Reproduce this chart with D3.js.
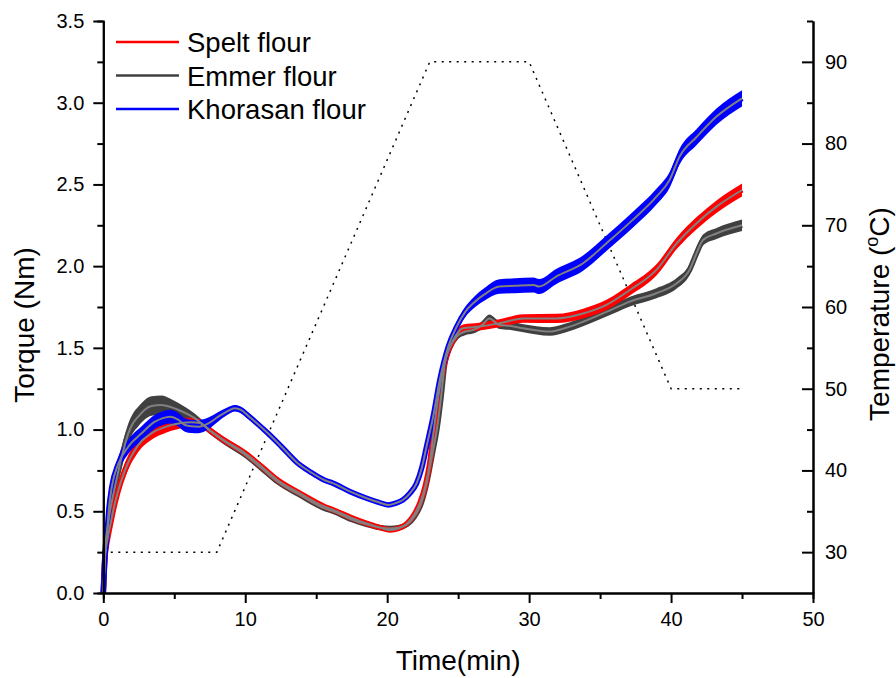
<!DOCTYPE html>
<html>
<head>
<meta charset="utf-8">
<script src="https://cdn.jsdelivr.net/npm/d3@7"></script>
<style>
  body { margin: 0; background: #fff; }
  text { font-family: "Liberation Sans", Arial, sans-serif; }
</style>
</head>
<body>
<svg id="chart" width="896" height="678"></svg>
<script>
// torque curves, [time (min), torque (Nm)]
const speltTorque = [[0,0],[0.12,0.22],[0.3,0.33],[0.5,0.42],[0.82,0.55],[1.2,0.67],[1.76,0.8],[2.2,0.87],[2.7,0.93],[3.2,0.965],[3.64,0.99],[4.2,1.01],[4.8,1.028],[5.5,1.04],[6.2,1.045],[6.8,1.04],[7.6,0.99],[8.5,0.935],[10,0.855],[11.2,0.77],[12.3,0.69],[13.85,0.61],[15.6,0.528],[16.2,0.508],[17.5,0.46],[18.55,0.426],[19.5,0.4],[20.2,0.386],[20.8,0.395],[21.4,0.426],[21.9,0.48],[22.3,0.549],[22.7,0.66],[23,0.794],[23.25,0.97],[23.5,1.14],[23.94,1.365],[24.3,1.48],[24.65,1.548],[25.35,1.62],[26.5,1.63],[27.9,1.65],[29.6,1.68],[31.9,1.68],[33.8,1.71],[35.45,1.763],[37.1,1.854],[38.97,1.977],[40.4,2.14],[41.8,2.263],[43.2,2.364],[45,2.466]];
const emmerTorque = [[0,0],[0.12,0.25],[0.35,0.43],[0.6,0.56],[0.82,0.65],[1.3,0.834],[1.76,0.977],[2.1,1.04],[2.46,1.079],[2.9,1.12],[3.4,1.144],[4.1,1.15],[4.7,1.14],[5.3,1.12],[6.46,1.069],[7.6,0.987],[8.5,0.93],[10,0.845],[11.2,0.76],[12.3,0.68],[13.85,0.6],[15.6,0.518],[16.2,0.5],[17.5,0.45],[18.55,0.42],[19.5,0.4],[20.2,0.395],[20.8,0.4],[21.4,0.42],[21.9,0.465],[22.4,0.55],[22.8,0.68],[23.2,0.86],[23.5,1],[23.8,1.2],[24.06,1.405],[24.4,1.5],[24.9,1.57],[25.5,1.6],[26.06,1.61],[26.7,1.64],[27.2,1.68],[27.9,1.64],[28.6,1.635],[29.6,1.62],[31.46,1.6],[32.5,1.62],[33.8,1.66],[35.45,1.72],[37.1,1.783],[38.97,1.834],[40.4,1.895],[41.3,1.977],[41.8,2.08],[42.25,2.16],[43.2,2.2],[45,2.25]];
const khorasanTorque = [[0,0],[0.1,0.2],[0.25,0.345],[0.4,0.52],[0.6,0.65],[1.06,0.79],[1.76,0.895],[2.7,0.977],[3.64,1.048],[4.2,1.07],[4.7,1.079],[5.3,1.059],[5.75,1.028],[6.2,1.02],[6.7,1.018],[7.4,1.038],[8.1,1.079],[8.7,1.11],[9.27,1.13],[9.7,1.12],[10.2,1.085],[10.7,1.048],[11.6,0.977],[12.56,0.895],[13.7,0.794],[14.6,0.74],[15.6,0.69],[16.2,0.671],[17.4,0.62],[18.55,0.58],[19.4,0.555],[20.07,0.539],[20.6,0.55],[21.1,0.569],[21.6,0.61],[22.07,0.671],[22.45,0.77],[22.77,0.895],[23.24,1.079],[23.7,1.3],[24.3,1.507],[24.9,1.63],[25.5,1.72],[26.06,1.773],[26.9,1.83],[27.9,1.875],[29,1.88],[30.3,1.885],[30.7,1.875],[31.9,1.936],[33.8,2.018],[35.45,2.14],[37.3,2.283],[38.97,2.425],[39.9,2.528],[40.6,2.67],[41.8,2.79],[43.2,2.915],[45,3.027]];

// half width of the noisy raw-data band, [time, Nm]
const speltSpread = [[0,0.01],[1,0.045],[5,0.035],[7,0.022],[20,0.012],[25,0.022],[45,0.04]];
const emmerSpread = [[0,0.01],[1,0.06],[4,0.06],[7,0.02],[20,0.012],[25,0.022],[45,0.035]];
const khorasanSpread = [[0,0.01],[1,0.045],[7,0.04],[9,0.02],[20,0.012],[25,0.028],[28,0.045],[45,0.05]];

// mixing temperature profile
const tempTimes = [0, 8, 23, 30, 40, 45];
const tempValues = [30, 30, 90, 90, 50, 50];

const seriesNames = ['Spelt flour', 'Emmer flour', 'Khorasan flour'];
const seriesColors = ['#ff0000', '#404040', '#0000ff'];

const xTicks = [0, 10, 20, 30, 40, 50];
const torqueTicks = [0, 0.5, 1, 1.5, 2, 2.5, 3, 3.5];
const tempTicks = [30, 40, 50, 60, 70, 80, 90];

const svg = d3.select('#chart');
const plot = { left: 103.3, right: 813, top: 21, bottom: 593 };

const x = d3.scaleLinear().domain([0, 50]).range([plot.left, plot.right]);
const y = d3.scaleLinear().domain([0, 3.5]).range([plot.bottom, plot.top]);
const yT = d3.scaleLinear().domain([25, 95]).range([plot.bottom, plot.top]);

// temperature, dotted
const tempLine = d3.line().x(d => x(d[0])).y(d => yT(d[1]));
svg.append('path')
  .datum(tempTimes.map((t, i) => [t, tempValues[i]]))
  .attr('d', tempLine)
  .attr('fill', 'none')
  .attr('stroke', '#000')
  .attr('stroke-width', 1.5)
  .attr('stroke-dasharray', '2,5.5');

const allSeries = [speltTorque, emmerTorque, khorasanTorque];
const allSpread = [speltSpread, emmerSpread, khorasanSpread];
const drawOrder = [1, 0, 2];

const line = d3.line().curve(d3.curveMonotoneX).x(d => x(d[0])).y(d => y(d[1]));

drawOrder.forEach(i => {
  const spread = d3.scaleLinear().domain(allSpread[i].map(d => d[0])).range(allSpread[i].map(d => d[1]));
  const band = d3.area().curve(d3.curveMonotoneX)
    .x(d => x(d[0]))
    .y0(d => y(d[1] - spread(d[0])))
    .y1(d => y(d[1] + spread(d[0])));
  svg.append('path').datum(allSeries[i]).attr('d', band).attr('fill', seriesColors[i]);
  svg.append('path').datum(allSeries[i]).attr('d', line)
    .attr('fill', 'none').attr('stroke', seriesColors[i])
    .attr('stroke-width', 5.5).attr('stroke-linejoin', 'round');
});

// smoothed curves on top
drawOrder.forEach(i => {
  svg.append('path').datum(allSeries[i]).attr('d', line)
    .attr('fill', 'none').attr('stroke', '#808080')
    .attr('stroke-width', 2).attr('stroke-linejoin', 'round');
});

// axes
function styleAxis(g) {
  g.selectAll('path, line').attr('stroke', '#000').attr('stroke-width', 2);
  g.selectAll('text').attr('font-size', 20).attr('fill', '#000')
    .attr('font-family', '"Liberation Sans", Arial, sans-serif');
}

const minorX = d3.range(5, 50, 10);
svg.append('g').attr('transform', `translate(0,${plot.bottom})`)
  .call(d3.axisBottom(x).tickValues(minorX).tickSize(6).tickFormat(''))
  .call(styleAxis);
svg.append('g').attr('transform', `translate(0,${plot.bottom})`)
  .call(d3.axisBottom(x).tickValues(xTicks).tickSizeInner(10).tickSizeOuter(0).tickPadding(9).tickFormat(d3.format('d')))
  .call(styleAxis);

const minorY = d3.range(0.25, 3.5, 0.5);
svg.append('g').attr('transform', `translate(${plot.left},0)`)
  .call(d3.axisLeft(y).tickValues(minorY).tickSize(6).tickFormat(''))
  .call(styleAxis);
svg.append('g').attr('transform', `translate(${plot.left},0)`)
  .call(d3.axisLeft(y).tickValues(torqueTicks).tickSizeInner(10).tickSizeOuter(0).tickPadding(9).tickFormat(d3.format('.1f')))
  .call(styleAxis);

const minorT = d3.range(35, 100, 10);
svg.append('g').attr('transform', `translate(${plot.right},0)`)
  .call(d3.axisRight(yT).tickValues(minorT).tickSizeInner(-6).tickSizeOuter(0).tickFormat(''))
  .call(styleAxis);
svg.append('g').attr('transform', `translate(${plot.right},0)`)
  .call(d3.axisRight(yT).tickValues(tempTicks).tickSizeInner(-11).tickSizeOuter(0).tickPadding(12).tickFormat(d3.format('d')))
  .call(styleAxis);

// axis titles
svg.append('text').attr('x', (plot.left + plot.right) / 2).attr('y', 670)
  .attr('text-anchor', 'middle').attr('font-size', 28).text('Time(min)');
svg.append('text').attr('transform', 'translate(34,325) rotate(-90)')
  .attr('text-anchor', 'middle').attr('font-size', 28).text('Torque (Nm)');
const tTitle = svg.append('text').attr('transform', 'translate(889,314) rotate(-90)')
  .attr('text-anchor', 'middle').attr('font-size', 28);
tTitle.append('tspan').text('Temperature (');
tTitle.append('tspan').attr('font-size', 18).attr('dy', -11).text('o');
tTitle.append('tspan').attr('dy', 11).text('C)');

// legend
const legend = svg.append('g');
seriesNames.forEach((name, i) => {
  const ly = 42 + i * 33.5;
  legend.append('line').attr('x1', 116).attr('x2', 179).attr('y1', ly).attr('y2', ly)
    .attr('stroke', seriesColors[i]).attr('stroke-width', 2.5);
  legend.append('text').attr('x', 187).attr('y', ly + 10).attr('font-size', 27.5).text(name);
});
</script>
</body>
</html>
